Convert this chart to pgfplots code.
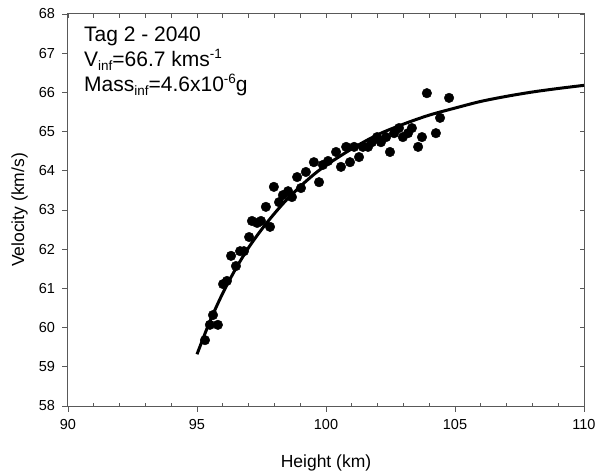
\documentclass[border=0pt]{standalone}
\usepackage{fontspec}
\setmainfont{Liberation Sans}
\usepackage{pgfplots}
\usepackage{pgfplotstable}
\pgfplotsset{compat=1.18}
\definecolor{axgray}{gray}{0.35}

\pgfplotstableread{
h v
95.31 59.68
95.50 60.07
95.81 60.07
95.62 60.32
96.01 61.11
96.16 61.19
96.32 61.83
96.51 61.57
96.67 61.95
96.82 61.95
97.02 62.31
97.13 62.72
97.33 62.67
97.48 62.72
97.67 63.08
97.83 62.57
97.98 63.59
98.18 63.20
98.33 63.38
98.53 63.48
98.68 63.33
98.88 63.84
99.03 63.56
99.22 63.97
99.53 64.22
99.73 63.71
99.88 64.15
100.08 64.25
100.39 64.48
100.58 64.10
100.78 64.61
100.93 64.22
101.09 64.61
101.28 64.35
101.43 64.61
101.63 64.61
101.78 64.73
101.98 64.86
102.13 64.73
102.33 64.86
102.48 64.48
102.64 64.96
102.83 65.09
102.98 64.86
103.18 64.96
103.33 65.09
103.57 64.61
103.72 64.86
103.91 65.98
104.26 64.96
104.42 65.35
104.77 65.86
}\pts

\pgfplotstableread{
h v
95.0 59.32
95.5 60.16
96.0 60.88
96.5 61.50
97.0 62.04
97.5 62.50
98.0 62.91
98.5 63.28
99.0 63.60
99.5 63.89
100 64.14
101 64.56
102 64.92
103 65.19
104 65.42
105 65.60
106 65.77
107 65.90
108 66.01
109 66.10
110 66.18
}\fit

\begin{document}
\begin{tikzpicture}
\begin{axis}[
  width=516bp, height=392bp, scale only axis,
  xmin=90, xmax=110, ymin=58, ymax=68,
  xtick={90,95,...,110}, ytick={58,59,...,68},
  tick align=outside, xtick pos=left, ytick pos=left,
  major tick length=5.5bp,
  tick style={axgray, line width=0.8bp},
  axis line style={axgray, line width=1bp},
  ticklabel style={font=\fontsize{14.5bp}{17bp}\selectfont},
  /pgf/number format/assume math mode=true,
  xticklabel style={yshift=-4bp},
  yticklabel style={xshift=-4bp},
  xlabel={Height (km)}, ylabel={Velocity (km/s)},
  label style={font=\fontsize{17.5bp}{21bp}\selectfont},
  xlabel style={at={(axis description cs:0.5,-0.158)}, anchor=base},
  ylabel style={at={(axis description cs:-0.085,0.5)}, anchor=base},
  clip=false,
]
\addplot[black, line width=3bp, smooth] table[x=h,y=v] {\fit};
\addplot[only marks, mark=*, mark size=4.8bp, mark options={fill=black, draw=black}] table[x=h,y=v] {\pts};
\node[anchor=base west, inner sep=0pt, font=\fontsize{21bp}{24bp}\selectfont] at (axis cs:90.62,67.29) {Tag 2 - 2040};
\node[anchor=base west, inner sep=0pt, font=\fontsize{21bp}{24bp}\selectfont] at (axis cs:90.62,66.65) {V\raisebox{-4bp}{\fontsize{13.5bp}{13bp}\selectfont inf}=66.7 kms\raisebox{8.5bp}{\fontsize{13.5bp}{13bp}\selectfont -1}};
\node[anchor=base west, inner sep=0pt, font=\fontsize{21bp}{24bp}\selectfont] at (axis cs:90.62,66.02) {Mass\raisebox{-4bp}{\fontsize{13.5bp}{13bp}\selectfont inf}=4.6x10\raisebox{8.5bp}{\fontsize{13.5bp}{13bp}\selectfont -6}g};
\end{axis}
% top and right inward ticks
\begin{axis}[
  width=516bp, height=392bp, scale only axis,
  xmin=90, xmax=110, ymin=58, ymax=68,
  xtick={90,91,...,110}, ytick={58,59,...,68},
  xticklabels={}, yticklabels={},
  tick align=inside, xtick pos=right, ytick pos=right,
  major tick length=4bp,
  tick style={axgray, line width=0.8bp},
  axis line style={draw=none},
]
\end{axis}
% bottom inward minor ticks
\begin{axis}[
  width=516bp, height=392bp, scale only axis,
  xmin=90, xmax=110, ymin=58, ymax=68,
  xtick={91,92,93,94,96,97,98,99,101,102,103,104,106,107,108,109}, ytick=\empty,
  xticklabels={},
  tick align=inside, xtick pos=left,
  major tick length=3bp,
  tick style={axgray, line width=0.8bp},
  axis line style={draw=none},
]
\end{axis}
\pgfresetboundingbox
\path[use as bounding box] (-68bp,-69bp) rectangle (530bp,406bp);
\end{tikzpicture}
\end{document}
